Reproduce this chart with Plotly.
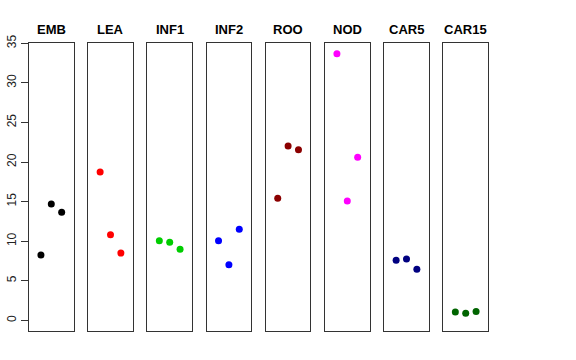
import plotly.graph_objects as go

groups = ["EMB", "LEA", "INF1", "INF2", "ROO", "NOD", "CAR5", "CAR15"]
colors = ["#000000", "#FF0000", "#00CD00", "#0000FF", "#8B0000", "#FF00FF", "#000080", "#006400"]
replicate = [1, 2, 3]
values = {
    "EMB":   [8.25, 14.7, 13.65],
    "LEA":   [18.74, 10.82, 8.5],
    "INF1":  [10.06, 9.86, 8.97],
    "INF2":  [10.06, 7.03, 11.5],
    "ROO":   [15.41, 22.02, 21.56],
    "NOD":   [33.69, 15.07, 20.6],
    "CAR5":  [7.58, 7.75, 6.44],
    "CAR15": [1.05, 0.88, 1.12],
}
y_ticks = [0, 5, 10, 15, 20, 25, 30, 35]

W, H = 576, 360
left0, step, width = 29.0, 59.2, 44.6
top_px, bot_px = 43.3, 331.0
ydom = [(H - bot_px) / H, (H - top_px) / H]
yrange = [-1.35, 35.0]

fig = go.Figure()
annotations = []
for i, (g, c) in enumerate(zip(groups, colors)):
    n = i + 1
    xa = "x" if n == 1 else f"x{n}"
    ya = "y" if n == 1 else f"y{n}"
    fig.add_trace(go.Scatter(
        x=replicate, y=values[g], mode="markers",
        marker=dict(color=c, size=7),
        xaxis=xa, yaxis=ya, showlegend=False, hoverinfo="skip",
    ))
    x0 = (left0 + step * i) / W
    x1 = (left0 + step * i + width) / W
    fig.layout[f"xaxis{'' if n == 1 else n}"] = dict(
        domain=[x0, x1], range=[-0.15, 4.15], anchor=ya, automargin=False,
        showgrid=False, zeroline=False, showticklabels=False, ticks="",
        showline=True, mirror=True, linecolor="#333333", linewidth=1,
    )
    ydict = dict(
        domain=ydom, range=yrange, anchor=xa, automargin=False,
        showgrid=False, zeroline=False,
        showline=True, mirror=True, linecolor="#333333", linewidth=1,
    )
    if n == 1:
        ydict.update(
            tickmode="array", tickvals=y_ticks, ticktext=[str(t) for t in y_ticks],
            ticks="outside", ticklen=7, tickcolor="#333333", tickwidth=1,
            tickangle=-90, tickfont=dict(family="Liberation Sans, Arial", size=12, color="#222222"),
        )
    else:
        ydict.update(showticklabels=False, ticks="")
    fig.layout[f"yaxis{'' if n == 1 else n}"] = ydict
    annotations.append(dict(
        text=f"<b>{g}</b>", x=(x0 + x1) / 2, y=(H - 29) / H,
        xref="paper", yref="paper", showarrow=False,
        xanchor="center", yanchor="middle",
        font=dict(family="Liberation Sans, Arial", size=13, color="#000000"),
    ))

fig.update_layout(
    width=W, height=H,
    margin=dict(l=0, r=0, t=0, b=0, autoexpand=False),
    paper_bgcolor="white", plot_bgcolor="white",
    annotations=annotations,
)
fig.write_html("out.html", config={"displayModeBar": False},
               post_script="document.body.style.margin='0px';")
